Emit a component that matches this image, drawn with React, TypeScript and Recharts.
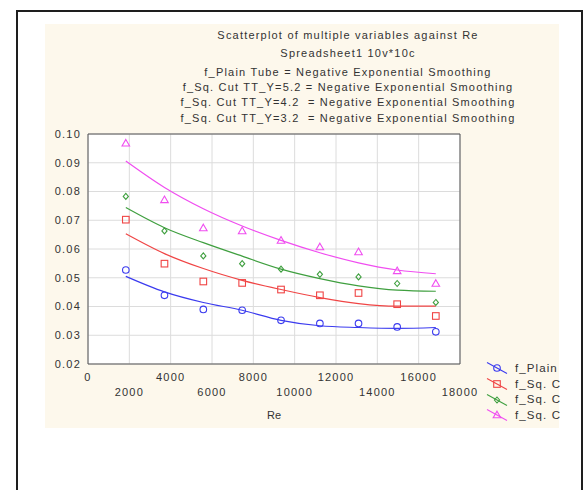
import { CartesianGrid, ComposedChart, Line, Scatter, XAxis, YAxis } from "recharts";

const FONT = "'Liberation Sans', Arial, sans-serif";
const TEXT = "#333333";
const AXIS = "#555555";
const GRID = "#dcdcdc";
const CREAM = "#fdf8ec";

// Re values of the nine cases
const reValues = [1830, 3700, 5580, 7460, 9340, 11220, 13090, 14960, 16830];

// measured friction factors
const fPlain = [0.0527, 0.0439, 0.039, 0.0387, 0.0352, 0.0341, 0.0341, 0.0329, 0.0312];
const fSq52 = [0.0702, 0.0549, 0.0487, 0.0482, 0.0459, 0.0439, 0.0447, 0.0408, 0.0367];
const fSq42 = [0.0783, 0.0663, 0.0576, 0.0549, 0.053, 0.0512, 0.0503, 0.048, 0.0414];
const fSq32 = [0.0968, 0.0771, 0.0673, 0.0663, 0.063, 0.0607, 0.059, 0.0524, 0.048];

// negative exponential smoothing curves, read at the same Re values
const plainFit = [0.0505, 0.0451, 0.0414, 0.0387, 0.0352, 0.0333, 0.0327, 0.0324, 0.0327];
const sq52Fit = [0.0653, 0.0584, 0.0532, 0.0491, 0.0459, 0.0431, 0.041, 0.0401, 0.0401];
const sq42Fit = [0.0744, 0.0674, 0.0622, 0.0575, 0.053, 0.0497, 0.0472, 0.0457, 0.0453];
const sq32Fit = [0.0906, 0.0814, 0.074, 0.068, 0.063, 0.0587, 0.0552, 0.0527, 0.0514];

const xMajorTicks = [0, 2000, 4000, 6000, 8000, 10000, 12000, 14000, 16000, 18000];
const xMinorTicks = [
  0, 1000, 2000, 3000, 4000, 5000, 6000, 7000, 8000, 9000, 10000, 11000, 12000, 13000, 14000,
  15000, 16000, 17000, 18000,
];
const yMajorTicks = [0.02, 0.03, 0.04, 0.05, 0.06, 0.07, 0.08, 0.09, 0.1];
const yMinorTicks = [
  0.02, 0.025, 0.03, 0.035, 0.04, 0.045, 0.05, 0.055, 0.06, 0.065, 0.07, 0.075, 0.08, 0.085, 0.09,
  0.095, 0.1,
];

const titleLines = [
  "Scatterplot of multiple variables against Re",
  "Spreadsheet1 10v*10c",
  "f_Plain Tube = Negative Exponential Smoothing",
  "f_Sq. Cut TT_Y=5.2 = Negative Exponential Smoothing",
  "f_Sq. Cut TT_Y=4.2  = Negative Exponential Smoothing",
  "f_Sq. Cut TT_Y=3.2  = Negative Exponential Smoothing",
];
const titleY = [35, 53, 72, 87, 102, 118];

type Kind = "circle" | "square" | "diamond" | "triangle";

// legend shows the names cut short, as in the original export
const SERIES: { key: string; fit: string; name: string; label: string; color: string; kind: Kind }[] = [
  { key: "plain", fit: "plainFit", name: "f_Plain Tube", label: "f_Plain", color: "#3b3bef", kind: "circle" },
  { key: "sq52", fit: "sq52Fit", name: "f_Sq. Cut TT_Y=5.2", label: "f_Sq. C", color: "#f04545", kind: "square" },
  { key: "sq42", fit: "sq42Fit", name: "f_Sq. Cut TT_Y=4.2", label: "f_Sq. C", color: "#3f9f3f", kind: "diamond" },
  { key: "sq32", fit: "sq32Fit", name: "f_Sq. Cut TT_Y=3.2", label: "f_Sq. C", color: "#f04ef0", kind: "triangle" },
];

const rows = reValues.map((re, i) => ({
  re,
  plain: fPlain[i],
  sq52: fSq52[i],
  sq42: fSq42[i],
  sq32: fSq32[i],
  plainFit: plainFit[i],
  sq52Fit: sq52Fit[i],
  sq42Fit: sq42Fit[i],
  sq32Fit: sq32Fit[i],
}));

function Marker({ kind, cx, cy, color }: { kind: Kind; cx: number; cy: number; color: string }) {
  const common = { fill: "none", stroke: color, strokeWidth: 1.1 };
  if (kind === "circle") return <circle cx={cx} cy={cy} r={3.3} {...common} />;
  if (kind === "square") return <rect x={cx - 3.3} y={cy - 3.3} width={6.6} height={6.6} {...common} />;
  if (kind === "diamond")
    return <polygon points={`${cx},${cy - 3} ${cx + 2.6},${cy} ${cx},${cy + 3} ${cx - 2.6},${cy}`} {...common} />;
  return <polygon points={`${cx},${cy - 3.8} ${cx + 3.8},${cy + 2.8} ${cx - 3.8},${cy + 2.8}`} {...common} />;
}

function XTick(props: any) {
  const { x, y, payload } = props;
  const v = payload.value as number;
  const row = v % 4000 === 0 ? 0 : 1;
  return (
    <text
      x={x}
      y={y + 9 + row * 15}
      textAnchor="middle"
      fill={TEXT}
      fontSize={11}
      fontFamily={FONT}
      style={{ letterSpacing: 1.2 }}
    >
      {v}
    </text>
  );
}

function ChartLegend() {
  return (
    <div style={{ position: "absolute", left: 484, top: 360, width: 75 }}>
      {SERIES.map((s) => (
        <div key={s.key} style={{ height: 15.8, display: "flex", alignItems: "center" }}>
          <svg width={26} height={15.8} style={{ flex: "none" }}>
            <line x1={3} y1={2.5} x2={23} y2={13.5} stroke={s.color} strokeWidth={1.1} />
            <Marker kind={s.kind} cx={13} cy={8} color={s.color} />
          </svg>
          <span
            style={{
              marginLeft: 5,
              fontFamily: FONT,
              fontSize: 11.5,
              letterSpacing: 1.1,
              color: TEXT,
              whiteSpace: "nowrap",
            }}
          >
            {s.label}
          </span>
        </div>
      ))}
    </div>
  );
}

export default function App() {
  const minorAxis = {
    type: "number" as const,
    allowDataOverflow: true,
    tick: false as const,
    tickSize: 3,
    tickLine: { stroke: AXIS },
  };
  return (
    <div
      style={{
        position: "absolute",
        left: 0,
        top: 0,
        width: 587,
        height: 490,
        overflow: "hidden",
        background: "#ffffff",
      }}
    >
      <div
        style={{
          position: "absolute",
          left: 16,
          top: 10,
          width: 567,
          height: 480,
          boxSizing: "border-box",
          borderTop: "2px solid #1e1e1e",
          borderLeft: "2px solid #1e1e1e",
          borderRight: "2px solid #1e1e1e",
        }}
      />
      <div style={{ position: "absolute", left: 45, top: 24, width: 514, height: 404, background: CREAM }} />
      {titleLines.map((t, i) => (
        <div
          key={t}
          style={{
            position: "absolute",
            left: 98,
            width: 500,
            top: titleY[i] - 7,
            height: 14,
            lineHeight: "14px",
            textAlign: "center",
            fontFamily: FONT,
            fontSize: 11,
            letterSpacing: 1.2,
            color: TEXT,
            whiteSpace: "pre",
          }}
        >
          {t}
        </div>
      ))}
      <div style={{ position: "absolute", left: 0, top: 0 }}>
        <ComposedChart width={587} height={490} data={rows} margin={{ top: 133, right: 126, bottom: 124, left: 86 }}>
          <CartesianGrid stroke={GRID} fill="#ffffff" />
          <XAxis
            dataKey="re"
            type="number"
            domain={[0, 18000]}
            ticks={xMajorTicks}
            interval={0}
            height={1}
            axisLine={{ stroke: AXIS }}
            tickLine={false}
            tick={<XTick />}
            label={{ value: "Re", position: "bottom", offset: 46, fill: TEXT, fontSize: 11, fontFamily: FONT }}
          />
          <YAxis
            type="number"
            domain={[0.02, 0.1]}
            ticks={yMajorTicks}
            interval={0}
            width={1}
            axisLine={{ stroke: AXIS }}
            tickLine={false}
            tickMargin={1}
            tickFormatter={(v: number) => v.toFixed(2)}
            tick={{ fill: TEXT, fontSize: 11, fontFamily: FONT, style: { letterSpacing: 1.2 } }}
          />
          <XAxis xAxisId="xb" orientation="bottom" domain={[0, 18000]} ticks={xMinorTicks} height={1} axisLine={false} {...minorAxis} />
          <XAxis xAxisId="xt" orientation="top" domain={[0, 18000]} ticks={xMinorTicks} height={1} axisLine={{ stroke: AXIS }} {...minorAxis} />
          <YAxis yAxisId="yl" orientation="left" domain={[0.02, 0.1]} ticks={yMinorTicks} width={1} axisLine={false} {...minorAxis} />
          <YAxis yAxisId="yr" orientation="right" domain={[0.02, 0.1]} ticks={yMinorTicks} width={1} axisLine={{ stroke: AXIS }} {...minorAxis} />
          {SERIES.map((s) => (
            <Line
              key={s.fit}
              dataKey={s.fit}
              type="monotone"
              stroke={s.color}
              strokeWidth={1.2}
              dot={false}
              activeDot={false}
              isAnimationActive={false}
            />
          ))}
          {SERIES.map((s) => (
            <Scatter
              key={s.key}
              dataKey={s.key}
              name={s.name}
              isAnimationActive={false}
              shape={(p: any) => <Marker kind={s.kind} cx={p.cx} cy={p.cy} color={s.color} />}
            />
          ))}
        </ComposedChart>
      </div>
      <ChartLegend />
    </div>
  );
}
